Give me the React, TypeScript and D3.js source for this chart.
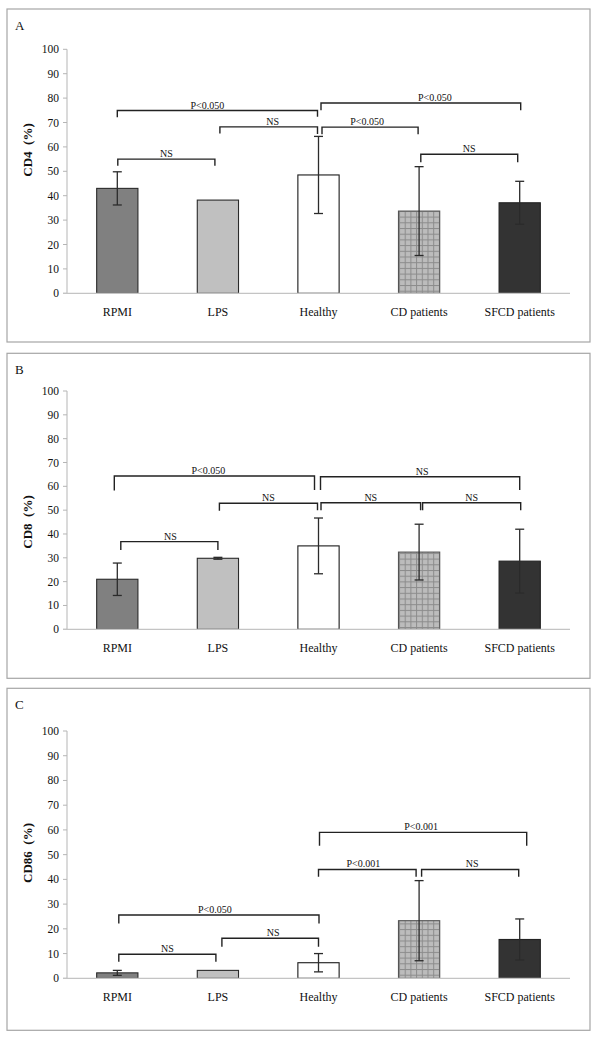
import React from "react";
import * as d3 from "d3";

const categories = ["RPMI", "LPS", "Healthy", "CD patients", "SFCD patients"];
const yTicks = [0, 10, 20, 30, 40, 50, 60, 70, 80, 90, 100];

const cd4Means = [43, 38.2, 48.5, 33.7, 37.1];
const cd4Errors = [6.8, 0, 15.8, 18.2, 8.8];
const cd8Means = [21, 29.8, 35, 32.4, 28.6];
const cd8Errors = [6.8, 0.4, 11.7, 11.7, 13.4];
const cd86Means = [2.2, 3.2, 6.3, 23.3, 15.7];
const cd86Errors = [1.0, 0, 3.7, 16.2, 8.3];

// [from, to, y, leftLegEnd, rightLegEnd, label]
type Bracket = [number, number, number, number, number, string];
const cd4Brackets: Bracket[] = [
  [0, 2, 74.9, 72.2, 72.4, "P<0.050"],
  [1, 2, 68.2, 65.5, 65.3, "NS"],
  [0, 1, 55, 52.3, 52.3, "NS"],
  [2, 4, 78, 75, 75, "P<0.050"],
  [2, 3, 68.1, 65.2, 65.2, "P<0.050"],
  [3, 4, 57, 53.7, 53.7, "NS"],
];
const cd8Brackets: Bracket[] = [
  [0, 2, 64.3, 58.2, 58.5, "P<0.050"],
  [1, 2, 52.9, 49.8, 50, "NS"],
  [0, 1, 36.8, 33.3, 33.3, "NS"],
  [2, 4, 64, 58.5, 58.5, "NS"],
  [2, 3, 53.1, 50, 50, "NS"],
  [3, 4, 53.1, 50, 50, "NS"],
];
const cd86Brackets: Bracket[] = [
  [0, 2, 25.6, 22.2, 22.2, "P<0.050"],
  [1, 2, 16.2, 12.8, 12.8, "NS"],
  [0, 1, 9.7, 6.7, 6.7, "NS"],
  [2, 4, 59, 53.6, 53.6, "P<0.001"],
  [2, 3, 44, 41.1, 41.1, "P<0.001"],
  [3, 4, 44, 41.1, 41.1, "NS"],
];

// small pixel nudges of bracket legs (left, right) and label, per panel
const cd4Nudges = [[0, -1, -10], [2, -1, 4], [0.5, -3, 0], [2.5, 1, 14], [3.5, -1, -3], [1.7, -2, 0]];
const cd8Nudges = [[-3, -4, -6], [1.5, -1, 0], [3.5, 0, 1], [2, 0, 2], [2.5, 1.5, 0], [3.5, 1, 0]];
const cd86Nudges = [[1.5, 0.5, -4], [4, 0, 3], [1.5, -2, 0], [1, 7, -2], [0, -3, -4], [2.5, -1, 2]];

const barFills = ["#808080", "#c0c0c0", "#ffffff", "url(#gridPat)", "#333333"];
const barStrokes = ["#2a2a2a", "#2a2a2a", "#1a1a1a", "#555555", "#222222"];

const FONT = "'Liberation Serif', 'Times New Roman', serif";

interface PanelProps {
  letter: string;
  yLabel: string;
  means: number[];
  errors: number[];
  brackets: Bracket[];
  nudges: number[][];
  frameY: number;
  frameH: number;
  plotTop: number;
  plotBottom: number;
  yLabelCenter: number;
}

function Panel(p: PanelProps) {
  const x = d3
    .scaleBand<string>()
    .domain(categories)
    .range([67, 570])
    .paddingInner(0.59)
    .paddingOuter(0.295);
  const y = d3.scaleLinear().domain([0, 100]).range([p.plotBottom, p.plotTop]);
  const cx = (i: number) => (x(categories[i]) as number) + x.bandwidth() / 2;
  const capW = 4.5;
  return (
    <g>
      <rect x={7} y={p.frameY} width={583} height={p.frameH} fill="#fff" stroke="#a6a6a6" strokeWidth={1.2} />
      <text x={15} y={p.frameY + 21} fontFamily={FONT} fontSize={13} fill="#111">
        {p.letter}
      </text>
      {/* y axis */}
      <line x1={67} x2={67} y1={y(100)} y2={y(0)} stroke="#b5b5b5" strokeWidth={1} />
      {yTicks.map((t) => (
        <g key={t}>
          <line x1={63} x2={67} y1={y(t)} y2={y(t)} stroke="#b5b5b5" strokeWidth={1} />
          <text x={59} y={y(t)} dy="0.35em" textAnchor="end" fontFamily={FONT} fontSize={11.5} fill="#111">
            {t}
          </text>
        </g>
      ))}
      <text
        transform={`translate(32, ${p.yLabelCenter}) rotate(-90)`}
        textAnchor="middle"
        fontFamily={FONT}
        fontSize={13}
        fontWeight="bold"
        fill="#111"
        style={{ whiteSpace: "pre" }}
      >
        {p.yLabel}
      </text>
      {/* bars */}
      {categories.map((c, i) => (
        <rect
          key={c}
          x={x(c) as number}
          y={y(p.means[i])}
          width={x.bandwidth()}
          height={y(0) - y(p.means[i])}
          fill={barFills[i]}
          stroke={barStrokes[i]}
          strokeWidth={1.1}
        />
      ))}
      {/* x axis */}
      <line x1={63} x2={570} y1={y(0)} y2={y(0)} stroke="#c4c4c4" strokeWidth={1.2} />
      {categories.map((c, i) => (
        <text key={c} x={cx(i)} y={y(0) + 22.5} textAnchor="middle" fontFamily={FONT} fontSize={12} fill="#111">
          {c}
        </text>
      ))}
      {/* error bars */}
      {categories.map((c, i) =>
        p.errors[i] > 0 ? (
          <g key={c} stroke="#2b2b2b" strokeWidth={1.3}>
            <line x1={cx(i)} x2={cx(i)} y1={y(p.means[i] + p.errors[i])} y2={y(p.means[i] - p.errors[i])} />
            <line x1={cx(i) - capW} x2={cx(i) + capW} y1={y(p.means[i] + p.errors[i])} y2={y(p.means[i] + p.errors[i])} />
            <line x1={cx(i) - capW} x2={cx(i) + capW} y1={y(p.means[i] - p.errors[i])} y2={y(p.means[i] - p.errors[i])} />
          </g>
        ) : null
      )}
      {/* significance brackets */}
      {p.brackets.map((b, k) => {
        const [from, to, yv, yl, yr, label] = b;
        const [nl, nr, nt] = p.nudges[k];
        const xl = cx(from) + nl;
        const xr = cx(to) + nr;
        const path = d3.path();
        path.moveTo(xl, y(yl));
        path.lineTo(xl, y(yv));
        path.lineTo(xr, y(yv));
        path.lineTo(xr, y(yr));
        return (
          <g key={k}>
            <path d={path.toString()} fill="none" stroke="#222" strokeWidth={1.4} />
            <text
              x={(xl + xr) / 2 + nt}
              y={y(yv) - 2}
              textAnchor="middle"
              fontFamily={FONT}
              fontSize={10}
              fill="#111"
            >
              {label}
            </text>
          </g>
        );
      })}
    </g>
  );
}

export default function App() {
  return (
    <svg
      width={600}
      height={1037}
      style={{ position: "absolute", left: 0, top: 0, background: "#fff" }}
    >
      <defs>
        <pattern id="gridPat" patternUnits="userSpaceOnUse" width={5.7} height={5.7}>
          <rect width={5.7} height={5.7} fill="#bcbcbc" />
          <line x1={0} x2={5.7} y1={0.5} y2={0.5} stroke="#8c8c8c" strokeWidth={1} />
          <line x1={0.5} x2={0.5} y1={0} y2={5.7} stroke="#8c8c8c" strokeWidth={1} />
        </pattern>
      </defs>
      <Panel
        letter="A"
        yLabel="CD4  (%)"
        means={cd4Means}
        errors={cd4Errors}
        brackets={cd4Brackets}
        nudges={cd4Nudges}
        frameY={9}
        frameH={333}
        plotTop={49.3}
        plotBottom={293.3}
        yLabelCenter={150}
      />
      <Panel
        letter="B"
        yLabel="CD8  (%)"
        means={cd8Means}
        errors={cd8Errors}
        brackets={cd8Brackets}
        nudges={cd8Nudges}
        frameY={353.3}
        frameH={325}
        plotTop={391}
        plotBottom={629.3}
        yLabelCenter={522}
      />
      <Panel
        letter="C"
        yLabel="CD86  (%)"
        means={cd86Means}
        errors={cd86Errors}
        brackets={cd86Brackets}
        nudges={cd86Nudges}
        frameY={688.3}
        frameH={342}
        plotTop={731}
        plotBottom={978.3}
        yLabelCenter={853}
      />
    </svg>
  );
}
